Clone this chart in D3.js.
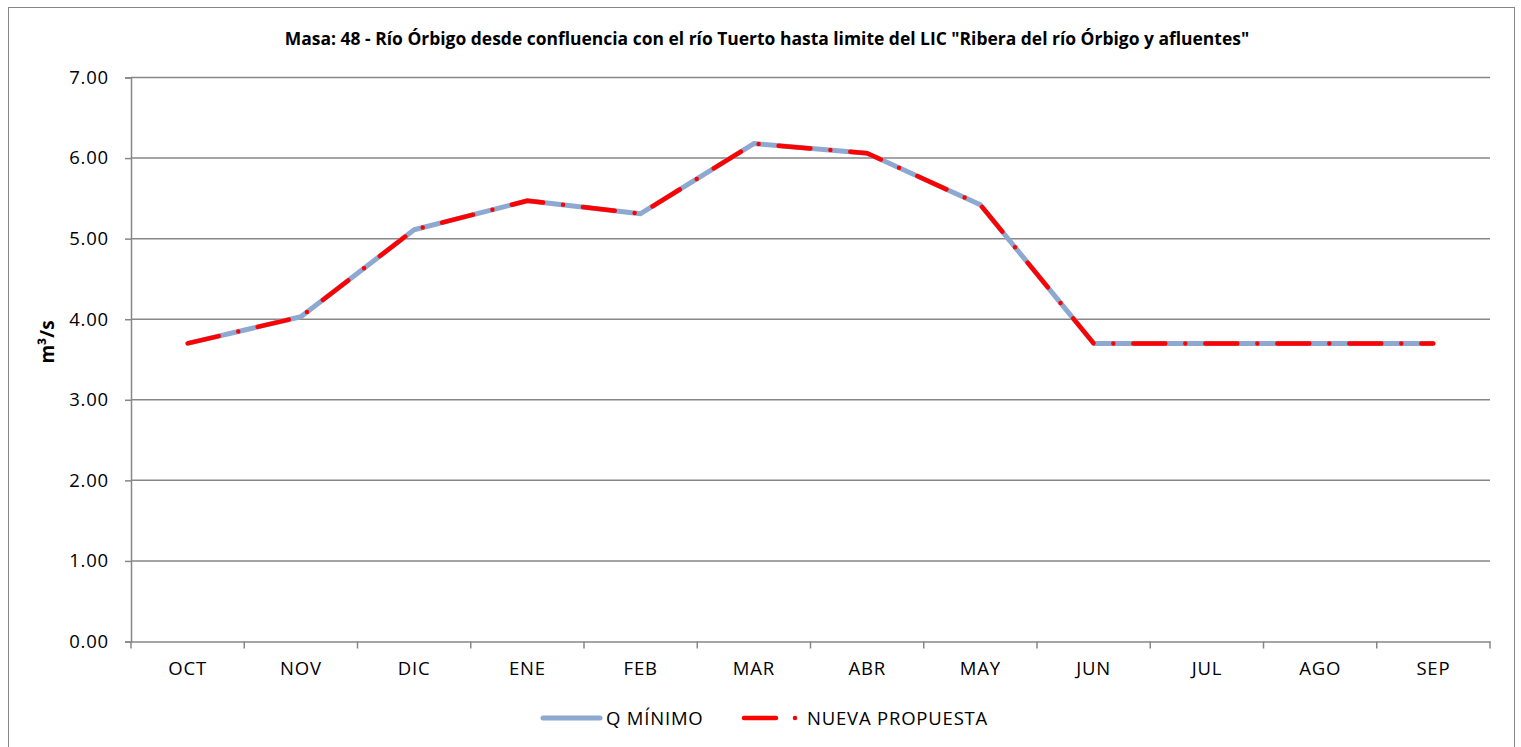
<!DOCTYPE html>
<html>
<head>
<meta charset="utf-8">
<script src="https://cdn.jsdelivr.net/npm/d3@7"></script>
<style>
  html, body { margin: 0; padding: 0; background: #fff; }
  svg { display: block; }
  text { font-family: "Open Sans", "Noto Sans", sans-serif; fill: #000; }
</style>
</head>
<body>
<svg id="chart" width="1521" height="747"></svg>
<script>
// Monthly flows (m³/s), hydrological year October–September
const months = ["OCT", "NOV", "DIC", "ENE", "FEB", "MAR", "ABR", "MAY", "JUN", "JUL", "AGO", "SEP"];
const qMinimo = [3.70, 4.03, 5.11, 5.47, 5.31, 6.18, 6.06, 5.42, 3.70, 3.70, 3.70, 3.70];
const nuevaPropuesta = [3.70, 4.03, 5.11, 5.47, 5.31, 6.18, 6.06, 5.42, 3.70, 3.70, 3.70, 3.70];
const yTicks = [0, 1, 2, 3, 4, 5, 6, 7];
const seriesNames = ["Q MÍNIMO", "NUEVA PROPUESTA"];
const titleText = 'Masa: 48 - Río Órbigo desde confluencia con el río Tuerto hasta limite del LIC "Ribera del río Órbigo y afluentes"';

const W = 1521, H = 747;
const plot = { left: 131, right: 1490, top: 77.5, bottom: 641.5 };
const gridColor = "#878787";
const blue = "#8EA9D1";
const red = "#FF0000";
const redDash = "32,20,0,20";
const labelSize = 18.5;
const labelSpacing = "0.8px";

const svg = d3.select("#chart");

// Outer chart border
svg.append("rect")
  .attr("x", 8.5).attr("y", 7.5)
  .attr("width", 1506).attr("height", 745)
  .attr("fill", "#fff").attr("stroke", gridColor).attr("stroke-width", 1);

const x = d3.scaleBand().domain(months).range([plot.left, plot.right]);
const y = d3.scaleLinear().domain([0, 7]).range([plot.bottom, plot.top]);

// Horizontal gridlines
svg.append("g").selectAll("line")
  .data(yTicks.filter(d => d > 0))
  .join("line")
  .attr("x1", plot.left).attr("x2", plot.right)
  .attr("y1", d => y(d)).attr("y2", d => y(d))
  .attr("stroke", gridColor).attr("stroke-width", 1.5);

// Y axis
const yAxis = svg.append("g")
  .attr("transform", `translate(${plot.left},0)`)
  .call(d3.axisLeft(y).tickValues(yTicks).tickFormat(d3.format(".2f")).tickSize(6).tickPadding(16));
yAxis.select(".domain").attr("stroke", gridColor).attr("stroke-width", 1.5);
yAxis.selectAll(".tick line").attr("stroke", gridColor).attr("stroke-width", 1.5);
yAxis.selectAll(".tick text")
  .attr("font-size", labelSize).attr("letter-spacing", labelSpacing)
  .attr("font-family", "Open Sans, sans-serif").attr("fill", "#000");

// X axis with ticks at category boundaries
const xAxis = svg.append("g")
  .attr("transform", `translate(0,${plot.bottom})`)
  .call(d3.axisBottom(x).tickSize(0).tickPadding(20));
xAxis.select(".domain").attr("stroke", gridColor).attr("stroke-width", 1.5);
xAxis.selectAll(".tick text")
  .attr("font-size", labelSize).attr("letter-spacing", labelSpacing)
  .attr("font-family", "Open Sans, sans-serif").attr("fill", "#000");
xAxis.append("g").selectAll("line")
  .data(months.map(m => x(m)).concat([plot.right]))
  .join("line")
  .attr("x1", d => d).attr("x2", d => d)
  .attr("y1", 0).attr("y2", 7)
  .attr("stroke", gridColor).attr("stroke-width", 1.5);

// Series lines
const line = d3.line()
  .x((d, i) => x(months[i]) + x.bandwidth() / 2)
  .y(d => y(d));

svg.append("path")
  .datum(qMinimo)
  .attr("d", line)
  .attr("fill", "none").attr("stroke", blue).attr("stroke-width", 5)
  .attr("stroke-linejoin", "round");

svg.append("path")
  .datum(nuevaPropuesta)
  .attr("d", line)
  .attr("fill", "none").attr("stroke", red).attr("stroke-width", 4.5)
  .attr("stroke-dasharray", redDash).attr("stroke-linecap", "round")
  .attr("stroke-linejoin", "round");

// Title, sized to span the header
const title = svg.append("text")
  .attr("x", 767).attr("y", 45)
  .attr("text-anchor", "middle")
  .attr("font-weight", "bold")
  .attr("font-size", 10)
  .text(titleText);
const tw = title.node().getComputedTextLength();
title.attr("font-size", 10 * 965 / tw);

// Y axis title
svg.append("text")
  .attr("transform", "translate(54,342) rotate(-90)")
  .attr("text-anchor", "middle")
  .attr("font-weight", "bold")
  .attr("font-size", 19)
  .text("m³/s");

// Legend
const legend = svg.append("g");
legend.append("line")
  .attr("x1", 543).attr("x2", 600).attr("y1", 718).attr("y2", 718)
  .attr("stroke", blue).attr("stroke-width", 5).attr("stroke-linecap", "round");
legend.append("text")
  .attr("x", 606).attr("y", 718).attr("dy", "0.36em")
  .attr("font-size", labelSize).attr("letter-spacing", labelSpacing)
  .text(seriesNames[0]);
legend.append("line")
  .attr("x1", 744).attr("x2", 800).attr("y1", 718).attr("y2", 718)
  .attr("stroke", red).attr("stroke-width", 4.5).attr("stroke-linecap", "round")
  .attr("stroke-dasharray", "32,19,0,40");
legend.append("text")
  .attr("x", 807).attr("y", 718).attr("dy", "0.36em")
  .attr("font-size", labelSize).attr("letter-spacing", labelSpacing)
  .text(seriesNames[1]);
</script>
</body>
</html>
